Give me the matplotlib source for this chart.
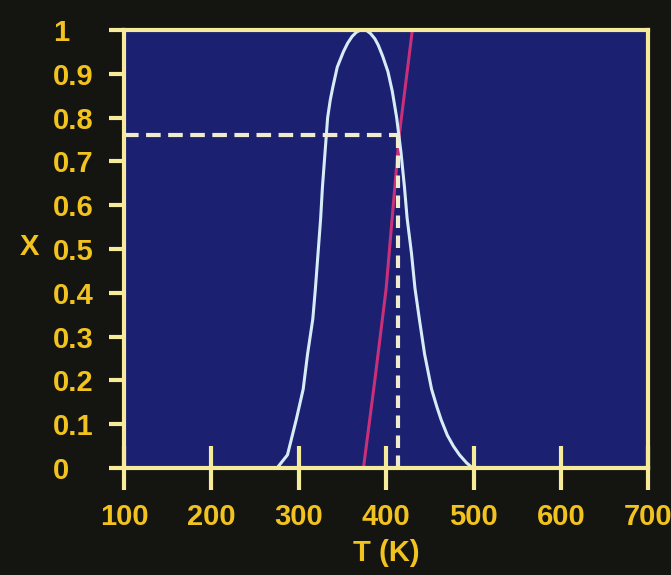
import matplotlib.pyplot as plt
from matplotlib import font_manager

# white curve (bell shaped)
t_bell = [100, 275, 287, 297, 305, 310, 316, 319, 322, 325, 327, 330, 333, 336, 339,
          344, 351, 356, 361, 366, 370, 374, 378, 382, 387, 391, 396, 402, 407, 412,
          417, 421, 424, 429, 433, 438, 444, 452, 458, 463, 470, 477, 484, 492, 499, 700]
x_bell = [0, 0, 0.03, 0.11, 0.18, 0.26, 0.34, 0.41, 0.49, 0.57, 0.64, 0.72, 0.80,
          0.84, 0.87, 0.915, 0.95, 0.97, 0.985, 0.995, 0.999, 1.0, 0.998, 0.992, 0.98,
          0.965, 0.94, 0.905, 0.86, 0.80, 0.72, 0.64, 0.57, 0.49, 0.41, 0.34, 0.26,
          0.18, 0.14, 0.11, 0.075, 0.05, 0.03, 0.012, 0, 0]

# magenta line
t_line = [374, 387, 400, 415, 430]
x_line = [0, 0.20, 0.41, 0.76, 1.0]

# dashed marker at the crossing
t_mark = 414
x_mark = 0.76

xticks = [100, 200, 300, 400, 500, 600, 700]
yticks = [0, 0.1, 0.2, 0.3, 0.4, 0.5, 0.6, 0.7, 0.8, 0.9, 1.0]
ylabels = ['0', '0.1', '0.2', '0.3', '0.4', '0.5', '0.6', '0.7', '0.8', '0.9', '1']

names = {f.name for f in font_manager.fontManager.ttflist}
if 'Liberation Sans Narrow' in names:
    fam, fs = 'Liberation Sans Narrow', 23
elif 'Liberation Sans' in names:
    fam, fs = 'Liberation Sans', 21
else:
    fam, fs = 'DejaVu Sans', 17

yellow = '#f2c31f'
edge = '#f5eb9a'

fig = plt.figure(figsize=(6.71, 5.75), dpi=100, facecolor='#141411')
ax = fig.add_axes([0.185, 0.186, 0.781, 0.762])
ax.set_facecolor('#1b2070')

ax.plot(t_bell, x_bell, color='#d6ecf7', lw=2.2, zorder=3)
ax.plot(t_line, x_line, color='#c8307a', lw=2.2, zorder=2)
ax.plot([100, t_mark], [x_mark, x_mark], color='#f0ecd0', lw=3, dashes=(3.5, 1.8), zorder=4)
ax.plot([t_mark, t_mark], [0, x_mark], color='#f0ecd0', lw=3, dashes=(3.0, 1.8), zorder=4)

ax.set_xlim(100, 700)
ax.set_ylim(0, 1)
for s in ax.spines.values():
    s.set_color(edge)
    s.set_linewidth(3)
    s.set_zorder(5)

ax.set_xticks(xticks)
ax.set_xticklabels([str(v) for v in xticks])
ax.set_yticks(yticks)
ax.set_yticklabels(ylabels)
ax.tick_params(axis='x', direction='inout', length=32, width=3, color=edge, pad=9)
ax.tick_params(axis='y', direction='out', length=11, width=3, color=edge, pad=40)
for lab in ax.get_xticklabels() + ax.get_yticklabels():
    lab.set_fontfamily(fam)
    lab.set_fontweight('bold')
    lab.set_fontsize(fs)
    lab.set_color(yellow)
for lab in ax.get_yticklabels():
    lab.set_horizontalalignment('left')

ax.set_xlabel('T (K)', fontfamily=fam, fontweight='bold', fontsize=fs, color=yellow, labelpad=0)
ax.set_ylabel('X', fontfamily=fam, fontweight='bold', fontsize=fs, color=yellow,
              rotation=0, va='center', labelpad=0)
ax.yaxis.set_label_coords(-0.18, 0.505)
ax.xaxis.set_label_coords(0.5, -0.162)

fig.savefig('out.png', dpi=100, facecolor=fig.get_facecolor())
